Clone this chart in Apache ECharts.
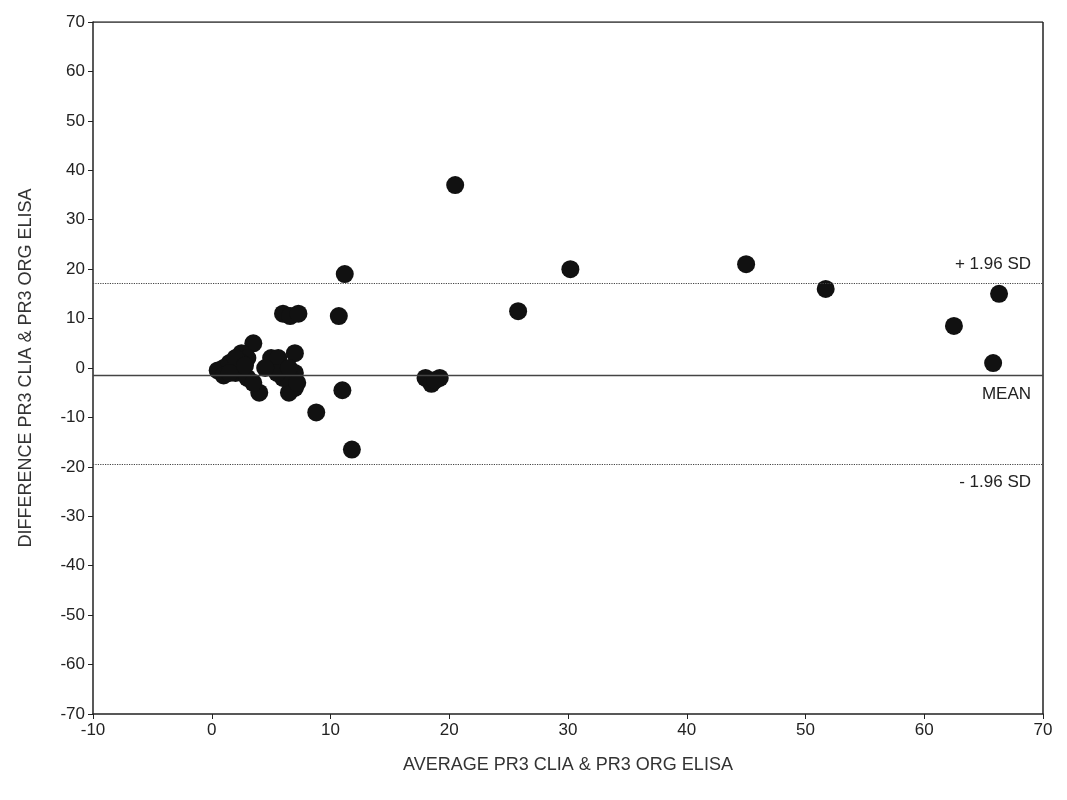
<!DOCTYPE html>
<html><head><meta charset="utf-8">
<script src="https://cdn.jsdelivr.net/npm/echarts@6/dist/echarts.min.js"></script>
<style>html,body{margin:0;background:#fff}#c{width:1067px;height:800px}</style>
</head><body><div id="c"></div>
<script>
// average, difference
var points = [
  [20.5,37],[30.2,20],[45,21],[51.7,16],[66.3,15],[62.5,8.5],[65.8,1],[25.8,11.5],
  [11.2,19],[10.7,10.5],[11,-4.5],[11.8,-16.5],[8.8,-9],[6,11],[6.6,10.5],[7.3,11],
  [18,-2],[18.5,-3.2],[19.2,-2],[18.8,-2.5],[3.5,5],[2.5,3],[3,2],[4,-5],[5,2],[5.6,2],
  [7,3],[7,-1],[7,-4],[6.5,-5],[6,-2],[5.5,-1],[1,0],[0.5,-0.5],[1.5,1],[2,-1],[1,-1.5],
  [2.5,1],[3,-2],[2,2],[3.5,-3],[6.5,0],[7.2,-3],[4.5,0],[1.5,-1],[2.8,0.5]
];
var meanDiff = -1.5;
var upperLimit = 17.2;
var lowerLimit = -19.4;

var chart = echarts.init(document.getElementById('c'));
var font = 'Liberation Sans';
chart.setOption({
  animation: false,
  grid: {left: 93, right: 24, top: 22, bottom: 86},
  xAxis: {
    type: 'value', min: -10, max: 70, interval: 10,
    name: 'AVERAGE PR3 CLIA & PR3 ORG ELISA', nameLocation: 'middle', nameGap: 42,
    nameTextStyle: {fontFamily: font, fontSize: 18, color: '#333'},
    axisLine: {show: true, onZero: false, lineStyle: {color: '#222', width: 1.5}},
    axisTick: {show: true, length: 5, lineStyle: {color: '#222'}},
    axisLabel: {fontFamily: font, fontSize: 17, color: '#222', margin: 8},
    splitLine: {show: false}
  },
  yAxis: {
    type: 'value', min: -70, max: 70, interval: 10,
    name: 'DIFFERENCE PR3 CLIA & PR3 ORG ELISA', nameLocation: 'middle', nameGap: 58,
    nameTextStyle: {fontFamily: font, fontSize: 18, color: '#333'},
    axisLine: {show: true, onZero: false, lineStyle: {color: '#222', width: 1.5}},
    axisTick: {show: true, length: 5, lineStyle: {color: '#222'}},
    axisLabel: {fontFamily: font, fontSize: 17, color: '#222', margin: 8},
    splitLine: {show: false}
  },
  series: [{
    type: 'scatter', data: points, symbolSize: 18,
    itemStyle: {color: '#111', opacity: 1},
    markLine: {
      silent: true, symbol: 'none',
      label: {position: 'insideEndTop', fontFamily: font, fontSize: 17, color: '#222', distance: [12, 10]},
      data: [
        {yAxis: upperLimit, lineStyle: {type: 'dotted', color: '#444', width: 1.2}, label: {formatter: '+ 1.96 SD'}},
        {yAxis: meanDiff, lineStyle: {type: 'solid', color: '#444', width: 1.3}, label: {formatter: 'MEAN', position: 'insideEndBottom'}},
        {yAxis: lowerLimit, lineStyle: {type: 'dotted', color: '#444', width: 1.2}, label: {formatter: '- 1.96 SD', position: 'insideEndBottom'}}
      ]
    }
  }, {
    type: 'line', data: [[70, -70], [70, 70]], symbol: 'none', silent: true,
    lineStyle: {color: '#222', width: 1.5}
  }, {
    type: 'line', data: [[-10, 70], [70, 70]], symbol: 'none', silent: true,
    lineStyle: {color: '#222', width: 1.5}
  }]
});
</script></body></html>
